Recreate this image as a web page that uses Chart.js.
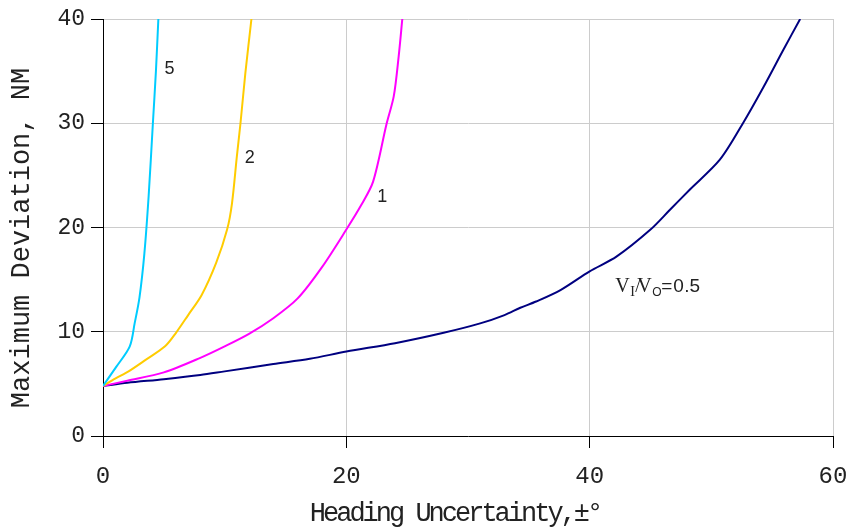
<!DOCTYPE html>
<html>
<head>
<meta charset="utf-8">
<script src="https://cdn.jsdelivr.net/npm/chart.js@4/dist/chart.umd.min.js"></script>
<style>
  html, body { margin: 0; padding: 0; background: #fff; }
  #wrap { width: 847px; height: 527px; }
</style>
</head>
<body>
<div id="wrap"><canvas id="c" width="847" height="527"></canvas></div>
<script>
// Heading uncertainty (degrees) vs. maximum deviation (NM), one curve per speed ratio
const ratio05X = [0, 2, 5, 8, 10, 14, 17, 20, 24, 28, 31, 33, 34.3, 35.6, 37.6, 40, 42.2, 45, 46.6, 48.2, 50.7, 52.6, 54.3, 55.9, 57.3];
const ratio05Y = [4.8, 5.1, 5.45, 5.85, 6.2, 6.9, 7.4, 8.1, 8.9, 9.9, 10.8, 11.6, 12.3, 12.9, 14.0, 15.8, 17.2, 19.8, 21.7, 23.6, 26.5, 30.0, 33.5, 37.0, 40.0];

const ratio1X = [0, 2, 5, 8, 10, 12, 14, 16, 18, 20, 21.2, 22.2, 23.3, 23.9, 24.3, 24.6];
const ratio1Y = [4.8, 5.3, 6.1, 7.5, 8.6, 9.8, 11.3, 13.2, 16.2, 19.8, 22.1, 24.4, 29.9, 32.6, 36.4, 40.0];

const ratio2X = [0, 1, 2.1, 3.5, 5.1, 6.0, 7.0, 8.1, 9.3, 10.2, 10.6, 11.0, 11.3, 11.7, 12.2];
const ratio2Y = [4.8, 5.5, 6.2, 7.3, 8.6, 9.9, 11.6, 13.5, 16.6, 19.8, 22.3, 26.8, 30.0, 34.8, 40.0];

const ratio5X = [0, 1.1, 2.2, 2.6, 3.0, 3.4, 3.75, 4.1, 4.35, 4.55];
const ratio5Y = [4.8, 6.65, 8.6, 10.8, 13.3, 17.5, 23.0, 30.0, 35.0, 40.0];

const xTicks = [0, 20, 40, 60];
const yTicks = [0, 10, 20, 30, 40];

const curveLabels = [
  { text: '5', x: 5.05, y: 35.2 },
  { text: '2', x: 11.65, y: 26.7 },
  { text: '1', x: 22.55, y: 22.9 }
];

const xTitle = 'Heading Uncertainty,\u00b1\u00b0';
const yTitle = 'Maximum Deviation, NM';

function pts(xs, ys) { return xs.map((x, i) => ({ x: x, y: ys[i] })); }

function series(label, xs, ys, color) {
  return {
    label: label,
    data: pts(xs, ys),
    borderColor: color,
    backgroundColor: color,
    borderWidth: 2,
    showLine: true,
    pointRadius: 0,
    tension: 0.3,
    fill: false
  };
}

// Curve labels and axis titles, placed through the chart's scales
const textPlugin = {
  id: 'textPlugin',
  afterDraw(chart) {
    const ctx = chart.ctx;
    const xs = chart.scales.x, ys = chart.scales.y;
    ctx.save();
    ctx.fillStyle = '#222';
    ctx.textBaseline = 'middle';
    ctx.textAlign = 'left';
    ctx.font = '18px "Liberation Sans", sans-serif';
    curveLabels.forEach(l => {
      ctx.fillText(l.text, xs.getPixelForValue(l.x), ys.getPixelForValue(l.y));
    });

    // V_I/V_O=0.5
    const x0 = xs.getPixelForValue(42.1);
    const base = ys.getPixelForValue(13.8);
    ctx.textBaseline = 'alphabetic';
    const parts = [
      { t: 'V', f: '20px "Liberation Serif", serif', dx: 0, dy: 0 },
      { t: 'I', f: '14px "Liberation Serif", serif', dx: 15, dy: 4 },
      { t: '/', f: '19px "Liberation Serif", serif', dx: 20, dy: 0 },
      { t: 'V', f: '20px "Liberation Serif", serif', dx: 22, dy: 0 },
      { t: 'O', f: '12px "Liberation Sans", sans-serif', dx: 37, dy: 4 },
      { t: '=', f: '19px "Liberation Sans", sans-serif', dx: 46, dy: 0 },
      { t: '0', f: '19px "Liberation Sans", sans-serif', dx: 58, dy: 0 },
      { t: '.5', f: '19px "Liberation Sans", sans-serif', dx: 69, dy: 0 }
    ];
    parts.forEach(p => {
      ctx.font = p.f;
      ctx.fillText(p.t, x0 + p.dx, base + p.dy);
    });

    // axis titles
    ctx.fillStyle = '#222';
    ctx.font = '27px "Liberation Mono", monospace';
    ctx.textAlign = 'center';
    ctx.textBaseline = 'middle';
    ctx.letterSpacing = '-3px';
    ctx.fillText(xTitle, 455, 514);
    ctx.letterSpacing = '0px';
    ctx.translate(22, 238);
    ctx.rotate(-Math.PI / 2);
    ctx.fillText(yTitle, 0, 0);
    ctx.restore();
  }
};

new Chart(document.getElementById('c'), {
  type: 'scatter',
  data: {
    datasets: [
      series('5', ratio5X, ratio5Y, '#00CCFF'),
      series('2', ratio2X, ratio2Y, '#FFCC00'),
      series('1', ratio1X, ratio1Y, '#FF00FF'),
      series('0.5', ratio05X, ratio05Y, '#000080')
    ]
  },
  options: {
    responsive: false,
    animation: false,
    devicePixelRatio: 1,
    layout: { padding: { left: 0, right: 14, top: 19, bottom: 0 } },
    plugins: { legend: { display: false }, tooltip: { enabled: false } },
    scales: {
      x: {
        type: 'linear',
        min: 0, max: 60,
        afterBuildTicks: s => { s.ticks = xTicks.map(v => ({ value: v })); },
        afterFit: s => { s.height = 91; s.paddingLeft = 0; s.paddingRight = 0; },
        grid: { color: '#cccccc', tickColor: '#000', tickLength: 12, lineWidth: 1 },
        border: { display: true, color: '#000', width: 1 },
        ticks: {
          color: '#222',
          padding: 14,
          maxRotation: 0,
          font: { family: '"Liberation Mono", monospace', size: 24 }
        }
      },
      y: {
        type: 'linear',
        min: 0, max: 40,
        afterBuildTicks: s => { s.ticks = yTicks.map(v => ({ value: v })); },
        afterFit: s => { s.width = 103; s.paddingTop = 0; s.paddingBottom = 0; },
        grid: { color: '#cccccc', tickColor: '#000', tickLength: 12, lineWidth: 1 },
        border: { display: true, color: '#000', width: 1 },
        ticks: {
          color: '#222',
          padding: 6,
          font: { family: '"Liberation Mono", monospace', size: 23 }
        }
      }
    }
  },
  plugins: [textPlugin]
});
</script>
</body>
</html>
